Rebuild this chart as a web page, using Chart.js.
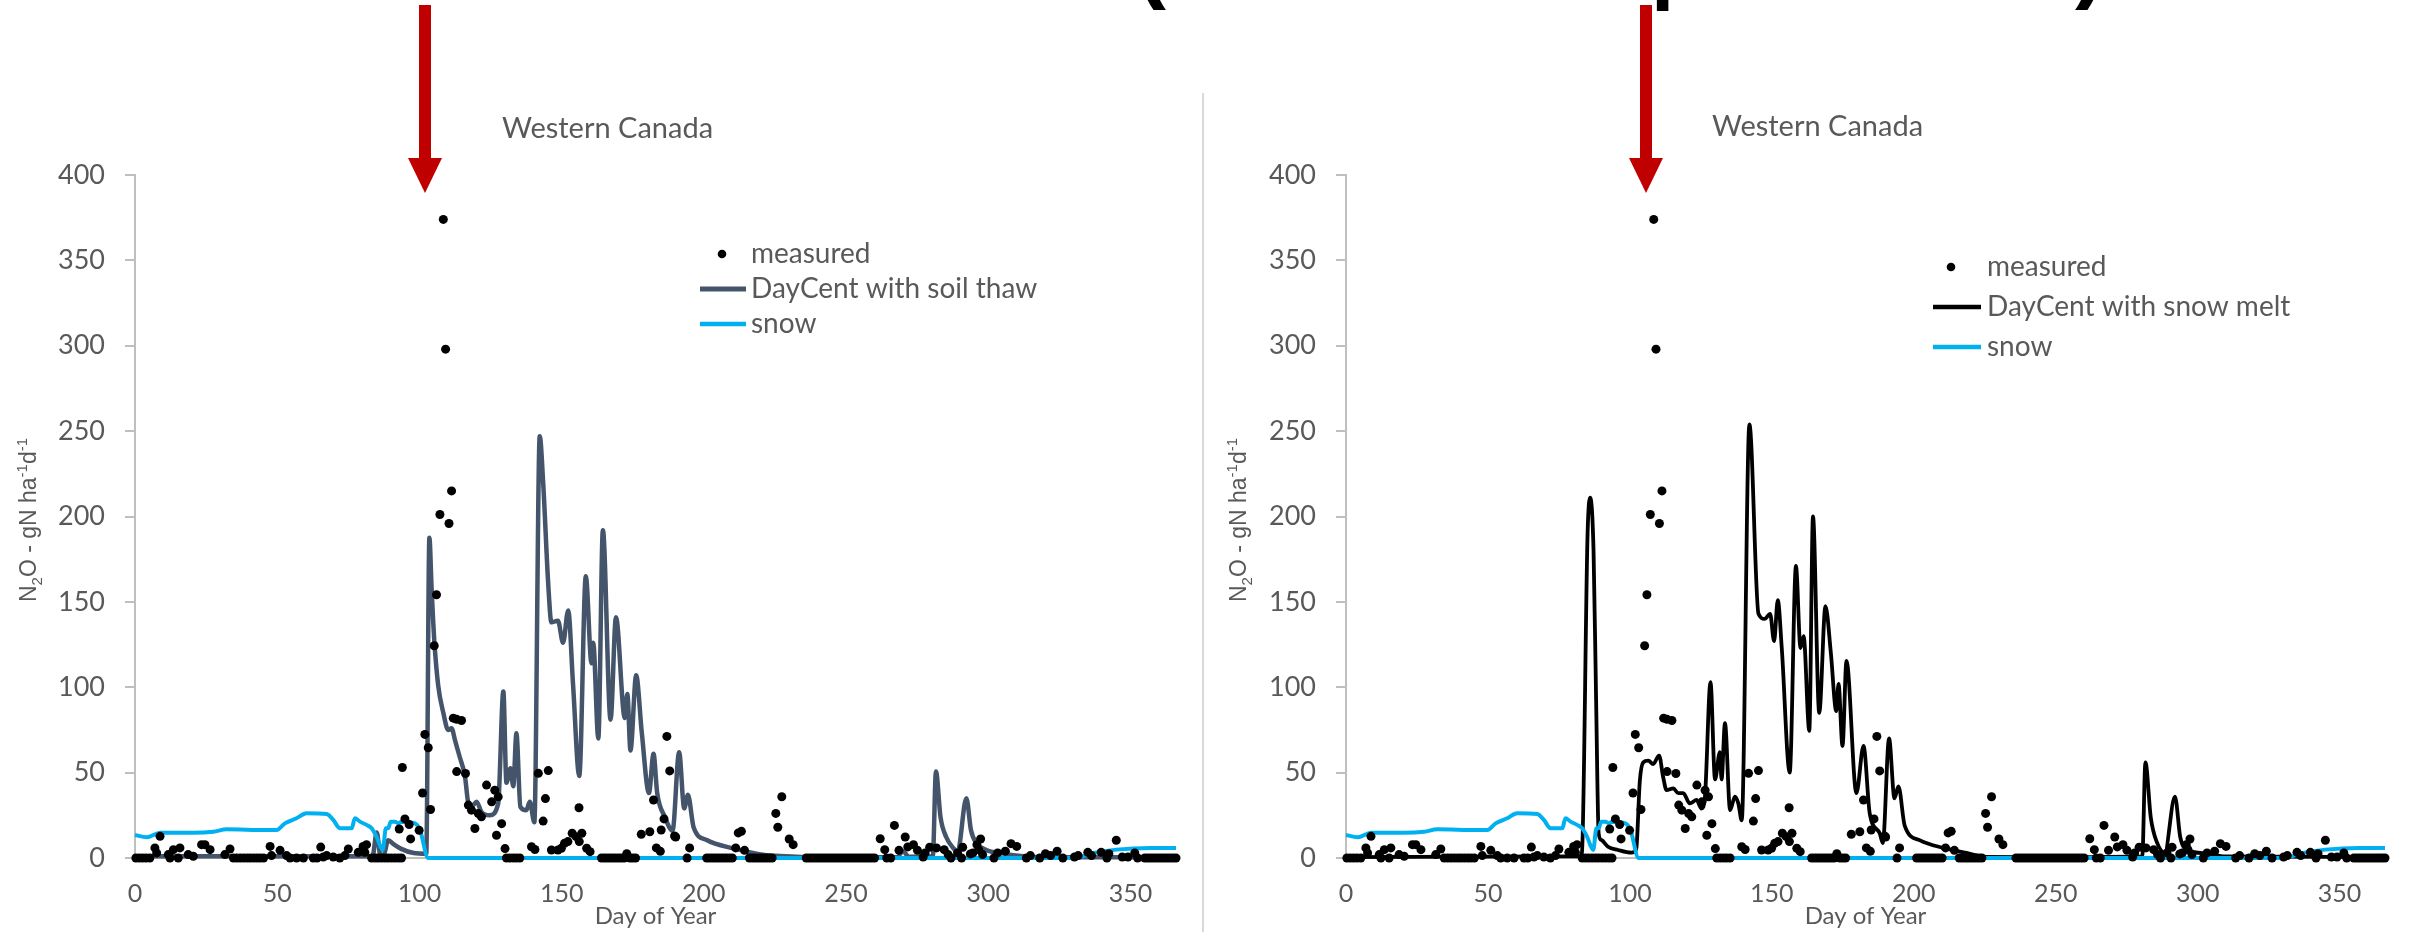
<!DOCTYPE html>
<html><head><meta charset="utf-8">
<script src="https://cdn.jsdelivr.net/npm/chart.js@4.4.1/dist/chart.umd.min.js"></script>
<style>
html,body{margin:0;padding:0;background:#fff;}
body{width:2418px;height:932px;position:relative;overflow:hidden;}
canvas{position:absolute;top:0;}
#cL{left:0;} #cR{left:1211px;}
.shaft{position:absolute;background:#c00000;width:12px;top:5px;height:154px;z-index:5;}
.head{position:absolute;width:0;height:0;border-left:17.5px solid transparent;border-right:17.5px solid transparent;border-top:35px solid #c00000;top:158px;z-index:5;}
.frag{position:absolute;top:0;height:11px;overflow:hidden;width:40px;z-index:5;}
.frag span{position:absolute;top:-85px;font:bold 90px "Liberation Sans",Arial,sans-serif;line-height:90px;color:#000;}
#divider{position:absolute;left:1202px;top:93px;width:2px;height:839px;background:#d9d9d9;}
</style></head>
<body>
<div class="frag" style="left:1130px"><span style="left:6px">(</span></div>
<div class="frag" style="left:1650px"><span style="left:0px">|</span></div>
<div class="frag" style="left:2075px"><span style="left:0px">)</span></div>
<div id="divider"></div>
<canvas id="cL" width="1200" height="932"></canvas>
<canvas id="cR" width="1207" height="932"></canvas>
<div class="shaft" style="left:419px"></div><div class="head" style="left:408px"></div>
<div class="shaft" style="left:1640px"></div><div class="head" style="left:1629px"></div>
<script>
// ---- tick values ----
const xTickValues = [0, 50, 100, 150, 200, 250, 300, 350];
const yTickValues = [0, 50, 100, 150, 200, 250, 300, 350, 400];

// ---- measured N2O (day, gN/ha/d) ----
const measuredDay = [0.3,1.5,2.7,3.9,5.2,7,7.6,8.8,11.7,12.3,13.5,15.2,15.8,18.7,20.5,23.4,24.6,26.4,31.6,33.4,
34.6,35.8,37,38.2,39.4,40.5,41.7,42.9,44,45.2,47.5,48,51,53.3,54.5,56.8,59.2,62.7,64,65.3,66.2,67.4,69.7,72,73.8,75,78.5,80.2,80.8,81.4,
83.2,84.4,85.5,86.7,87.9,89,90.2,91.4,92.6,93.7,92.9,94,94.9,96.4,96.9,99.9,101.1,101.9,103.1,103.9,105.2,106,107.2,108.4,109.2,110.4,111.3,
111.9,113.1,114.8,113.1,116.2,117.2,118.3,119.5,120.7,121.8,123.6,125.4,126.5,127.7,127.1,128.9,130.1,130.6,131.8,133,134.1,135.3,
139.4,140.6,141.8,143.5,144.3,145.3,146.4,148.7,149.9,151,152.2,153.7,155.1,156.1,156.2,157.1,158.8,160,
164,165,166,167,168,169,170,171,172,172.9,174,175,176,178,181,182.3,183.3,184.7,185,186,187,188,189.7,190.1,194.1,195,
201,202,203,204,205,206,207,208,209,210,211.2,212.1,213.2,214.3,216,217,218,219,220,221,222,223,224,225.3,226,227.4,230,231.4,
236,237,238,239,240,241,242,243,244,245,246,247,248,249,250,251,252,253,254,255,256,257,258,259,260,
262,263.6,264.3,265.7,267,268.6,270.8,271.7,273.7,275.1,277.1,277.8,279.4,281.8,284.5,285.9,286.9,289.2,290.6,291,293.7,294.6,296,297.3,296.6,298,
302,303.3,306,308,310,313.4,314.8,318.1,320.1,321.9,324.2,326.2,330.3,331.6,335,336.3,339.7,341.7,342.4,345,347.1,349.1,351.5,352.5,
355,356,357,358,359,360,361,362,363,364,365,366];
const measuredN2O = [0,0,0,0,0,5.9,3,12.7,2,0,4.9,0,5.9,2,1,7.8,7.8,4.9,2,5.3,
0,0,0,0,0,0,0,0,0,0,6.8,1.4,4.5,1.4,0,0,0,0,0,6.4,0.6,1.4,0.6,0,1.4,5.3,3.3,6.8,3.3,7.8,
0,0,0,0,0,0,0,0,0,0,17,53,22.9,19.6,11.2,16.2,38.1,72.4,64.6,28.4,124.3,154.2,201.2,374,298,195.9,215,
81.9,81.2,80.5,50.6,49.5,31,28,17.3,26,24.1,42.7,32.9,39.7,35.8,13.3,20.1,5.5,0,0,0,0,0,
6.6,5,49.6,21.6,34.8,51.2,4.7,4.7,5.7,8.6,9.6,14.5,12.5,29.4,9.6,14.5,5.7,3.7,
0,0,0,0,0,0,0,0,0,2.5,0,0,0,13.9,15.4,34,5.9,3.9,16.4,22.9,71.2,51,12.9,12.3,0,5.9,
0,0,0,0,0,0,0,0,0,0,5.9,14.7,15.6,4.5,0,0,0,0,0,0,0,0,0,26.1,18,35.9,11.1,7.8,
0,0,0,0,0,0,0,0,0,0,0,0,0,0,0,0,0,0,0,0,0,0,0,0,0,
11.3,4.9,0,0,19.1,4.5,12.3,6.5,7.8,4.5,0.6,3,6.3,5.9,4.9,2,0,3,0,6.3,2.4,3,7.8,11.1,4.9,2,
0,3,4,8.4,6.8,0,1.4,0,2.5,1.4,4,0,0.6,1.4,3.3,1.4,3.3,0,2.5,10.4,0.6,0.6,3,0,
0,0,0,0,0,0,0,0,0,0,0,0];

// ---- DayCent with soil thaw (left) ----
const soilThawDay = [0,83.5,85,86.3,87.5,89,91,93.4,98,102.4,103.5,104.3,105.2,106.6,108.4,110.1,111.3,112.5,114.2,116,117.2,118.3,120.1,121.8,124.7,127.7,
129.5,130.6,132,133,134.1,135.5,137.6,138.8,140.4,142.3,143.5,145.3,146.4,148.7,150.5,152.3,154,156.2,158.5,160.5,161.1,162.9,164.5,167.2,169.1,
172.2,173.1,174.2,176.2,178.2,180.7,182.3,183.6,186.3,189,191.3,193.1,194.4,196.4,201,210.5,221.3,226.7,240,268,270,272,280.5,281.6,283.2,285.2,
287.9,289.2,292.3,293.9,295.9,299.3,304.7,311.4,320,366];
const soilThawN2O = [1,1,15,1.5,2,10.4,8,5.5,2.9,2.5,187.5,157,128,101,85,75,76,69,59,48,32,30,33,27,25,32,
97.5,44,52.6,42,73,30,28,33,21,247,220,160,138,139,126,145,102,48,165,114,126,70,192,81,141,
82,96,63,107,73,38,61,38,24,16,62,29,37,18,10.5,5.6,1.8,1.2,0.5,0.5,4,0.8,1,50.6,24,12.3,
5.4,3.4,35,16.4,8.6,4.7,2.7,1.2,0.5,0.5];

// ---- DayCent with snow melt (right) ----
const snowMeltDay = [0,82.3,83.1,85.1,86,87.2,88.1,89,90,92.3,95.8,100.5,101.7,102.3,103.5,104.7,106.5,108.2,110.3,111.7,112.9,115.3,117,118.8,121.1,
123.5,125.2,126.4,128.4,130,131.7,132.3,133.5,135.3,137,138.2,139.4,142.1,145.3,147.5,149.4,150.8,152.1,153.5,156.3,158.5,160.1,161.2,163.2,164.5,
166.7,168.9,170.8,172.7,173.5,174.9,176.3,179.8,182.3,184.5,188,189.1,191.3,193.2,194.6,196.8,202.2,210.4,218.6,225.4,240,280.5,281.6,283.5,285.7,
288.4,292,293.9,296.6,303.4,308.9,366];
const snowMeltN2O = [0.5,1,3,190,211,180,93,14.4,10.5,6.6,4.7,3.1,3.7,6,45,56,57,55,60,47.6,39.8,40.8,38,38,32,
34,29,35,103,46,62,46,79,28,36,32,22,254,143,140,143,127,151,123,50,171,123,130,74.5,200,
85,147.5,120,86,102,65.6,115.5,38,65.6,26,14.5,8.7,70,35,42,19,10.3,5.9,3,0.6,0.5,1,56,23.6,9,
3.2,36,12,4.7,2.6,0.9,0.5];

// ---- snow ----
const snowDay = [0,4.1,8.8,20.5,27.5,32.2,46.3,49.8,52.7,56.8,60.3,67.4,69.7,72.1,76.2,77.3,79.1,81.4,83.2,84.9,87.1,88.2,89,89.9,91.4,92.6,93.7,98.4,100.2,103.1,330,337,345,357,366];
const snowDepth = [13.5,12.1,14.8,14.8,15.4,16.8,16.4,16.4,20.3,23.3,26.2,25.8,22.3,17.4,17.4,23.3,21.3,19.4,17.4,12.5,4.7,17.4,17.4,21.3,21.3,20.3,21.3,20.3,16.4,0,0,2.9,4.9,5.9,5.9];

const chartTitle = 'Western Canada';
const xTitle = 'Day of Year';

const pts = (xs, ys) => xs.map((d, i) => ({x: d, y: ys[i]}));
const TXT = '#595959';
const LATO = 'Lato, "Open Sans", sans-serif';

function drawYTitle(ctx, cx, cy) {
  const parts = [['N',0],['2',1],['O - gN ha',0],['-1',2],['d',0],['-1',2]];
  const big = '23px "Liberation Sans", Arial, sans-serif';
  const small = '15px "Liberation Sans", Arial, sans-serif';
  let total = 0;
  parts.forEach(p => { ctx.font = p[1] ? small : big; total += ctx.measureText(p[0]).width; });
  ctx.save();
  ctx.translate(cx, cy); ctx.rotate(-Math.PI / 2);
  ctx.fillStyle = TXT; ctx.textBaseline = 'alphabetic'; ctx.textAlign = 'left';
  let x = -total / 2;
  parts.forEach(p => {
    ctx.font = p[1] ? small : big;
    const dy = p[1] === 1 ? 6 : (p[1] === 2 ? -9 : 0);
    ctx.fillText(p[0], x, 8 + dy);
    x += ctx.measureText(p[0]).width;
  });
  ctx.restore();
}

const overlay = {
  id: 'overlay',
  afterDraw(chart, args, o) {
    const ctx = chart.ctx;
    ctx.save();
    ctx.fillStyle = TXT; ctx.textAlign = 'left'; ctx.textBaseline = 'middle';
    ctx.font = '29px ' + LATO;
    ctx.fillText(chartTitle, o.titleX, o.titleY);
    drawYTitle(ctx, o.yTitleX, o.yTitleY);
    // legend
    chart.data.datasets.forEach((ds, i) => {
      const y = o.rows[i];
      if (ds.showLine) {
        ctx.strokeStyle = ds.borderColor; ctx.lineWidth = ds.borderWidth + 0.5; ctx.lineCap = 'butt';
        ctx.beginPath(); ctx.moveTo(o.lineX0, y); ctx.lineTo(o.lineX1, y); ctx.stroke();
      } else {
        ctx.fillStyle = '#000'; ctx.beginPath(); ctx.arc(o.dotX, y, 4.3, 0, Math.PI * 2); ctx.fill();
      }
      ctx.fillStyle = TXT; ctx.font = '28px ' + LATO; ctx.textBaseline = 'middle';
      ctx.fillText(ds.label, o.textX, y);
    });
    ctx.restore();
  }
};

function makeChart(id, c) {
  return new Chart(document.getElementById(id), {
    type: 'scatter',
    data: { datasets: [
      { label: 'measured', data: pts(measuredDay, measuredN2O), showLine: false, pointRadius: 4.5,
        pointBackgroundColor: '#000', pointBorderWidth: 0, order: 0, clip: false },
      { label: c.modelLabel, data: pts(c.modelDay, c.modelVal), showLine: true, borderColor: c.modelColor,
        borderWidth: c.modelWidth, pointRadius: 0, tension: 0.4, cubicInterpolationMode: 'monotone', order: 2, clip: false },
      { label: 'snow', data: pts(snowDay, snowDepth), showLine: true, borderColor: '#00b0f0', borderWidth: 4,
        pointRadius: 0, tension: 0.4, cubicInterpolationMode: 'monotone', order: 1, clip: false }
    ]},
    options: {
      responsive: false, animation: false, events: [],
      layout: { padding: { left: 35, right: c.padRight, top: 175, bottom: 0 } },
      plugins: { legend: { display: false }, tooltip: { enabled: false }, overlay: c.overlay },
      scales: {
        x: { type: 'linear', min: 0, max: 366,
          afterBuildTicks: s => { s.ticks = xTickValues.map(v => ({ value: v })); },
          afterFit: s => { s.height = 74; },
          border: { display: true, color: '#bfbfbf', width: 2 },
          grid: { display: true, drawOnChartArea: false, drawTicks: false },
          ticks: { padding: 21, color: TXT, font: { family: LATO, size: 25 }, maxRotation: 0 },
          title: { display: true, text: xTitle, color: TXT, font: { family: LATO, size: 24 }, padding: { top: 0, bottom: 1 } }
        },
        y: { type: 'linear', min: 0, max: 400,
          afterBuildTicks: s => { s.ticks = yTickValues.map(v => ({ value: v })); },
          afterFit: s => { s.width = 100; },
          border: { display: true, color: '#bfbfbf', width: 2 },
          grid: { display: true, drawOnChartArea: false, drawTicks: true, tickLength: 10, color: '#bfbfbf', lineWidth: 2 },
          ticks: { padding: 20, color: TXT, font: { family: LATO, size: 27 } }
        }
      }
    },
    plugins: [overlay]
  });
}

function build() {
  makeChart('cL', {
    modelLabel: 'DayCent with soil thaw', modelDay: soilThawDay, modelVal: soilThawN2O,
    modelColor: '#44546a', modelWidth: 4.5, padRight: 24,
    overlay: { titleX: 502, titleY: 129, yTitleX: 28, yTitleY: 520,
      rows: [254, 289, 324], dotX: 722, lineX0: 700, lineX1: 746, textX: 751 }
  });
  makeChart('cR', {
    modelLabel: 'DayCent with snow melt', modelDay: snowMeltDay, modelVal: snowMeltN2O,
    modelColor: '#000000', modelWidth: 3.8, padRight: 33,
    overlay: { titleX: 501, titleY: 127, yTitleX: 27, yTitleY: 520,
      rows: [267, 307, 347], dotX: 740, lineX0: 722, lineX1: 770, textX: 776 }
  });
}
if (document.fonts && document.fonts.load) {
  Promise.all([document.fonts.load('28px Lato'), document.fonts.load('20px "Liberation Sans"')]).then(build, build);
} else { build(); }
</script>
</body></html>
